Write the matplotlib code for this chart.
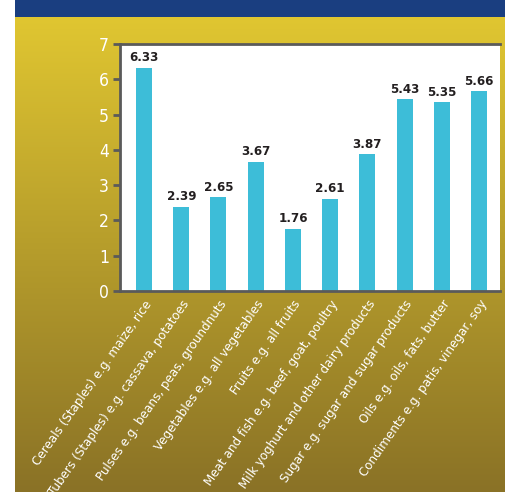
import matplotlib
matplotlib.use("Agg")
import matplotlib.pyplot as plt
import numpy as np
from matplotlib.colors import LinearSegmentedColormap
from matplotlib.patches import Rectangle

categories = [
    "Cereals (Staples) e.g. maize, rice",
    "Tubers (Staples) e.g. cassava, potatoes",
    "Pulses e.g. beans, peas, groundnuts",
    "Vegetables e.g. all vegetables",
    "Fruits e.g. all fruits",
    "Meat and fish e.g. beef, goat, poultry",
    "Milk yoghurt and other dairy products",
    "Sugar e.g. sugar and sugar products",
    "Oils e.g. oils, fats, butter",
    "Condiments e.g. patis, vinegar, soy",
]
values = [6.33, 2.39, 2.65, 3.67, 1.76, 2.61, 3.87, 5.43, 5.35, 5.66]
yticks = [0, 1, 2, 3, 4, 5, 6, 7]
title_text = "food item"

W, H = 506, 492
fig = plt.figure(figsize=(W / 100, H / 100), dpi=100)
fig.patch.set_facecolor("white")

narrow = ["DejaVu Sans Condensed", "DejaVu Sans"]
stretch = "condensed"

# background gradient panel
bg = fig.add_axes([15 / W, 0, 1 - 15 / W, 1 - 17 / H])
cmap = LinearSegmentedColormap.from_list("g", ["#E0C631", "#8A7226"])
grad = np.linspace(0, 1, 256).reshape(-1, 1)
bg.imshow(grad, aspect="auto", cmap=cmap, extent=[0, 1, 0, 1], origin="upper")
bg.set_axis_off()

# blue header band
fig.patches.append(Rectangle((15 / W, 1 - 17 / H), 1 - 15 / W, 17 / H,
                             transform=fig.transFigure, facecolor="#1A3E80",
                             edgecolor="none", zorder=1))
fig.text(120 / W, 1 - 2.5 / H, title_text, color="white", fontsize=13,
         fontweight="bold", ha="left", va="bottom", family=narrow,
         fontstretch=stretch)

ax = fig.add_axes([120 / W, 1 - 291 / H, (500 - 120) / W, (291 - 44) / H])
ax.set_facecolor("white")
x = np.arange(len(categories))
ax.bar(x, values, width=0.43, color="#3DBDD8", zorder=2)
for xi, v in zip(x, values):
    ax.text(xi, v + 0.1, f"{v:.2f}", ha="center", va="bottom", fontsize=9.5,
            fontweight="bold", color="#231F20", family=narrow,
            fontstretch=stretch)

ax.set_xlim(-0.645, len(categories) - 1 + 0.56)
ax.set_ylim(0, 7)
ax.set_yticks(yticks)
ax.set_yticklabels([str(t) for t in yticks], color="white", fontsize=12.5,
                   family=narrow, fontstretch=stretch)
ax.set_xticks(x)
ax.set_xticklabels(categories, rotation=55, ha="right", rotation_mode="anchor",
                   color="white", fontsize=9.5, family=narrow,
                   fontstretch=stretch)
ax.tick_params(axis="y", length=5, width=2, color="#5A5A5A", pad=3)
ax.tick_params(axis="x", length=0, pad=5)
for s in ["left", "bottom", "top"]:
    ax.spines[s].set_color("#5A5A5A")
    ax.spines[s].set_linewidth(2)
ax.spines["right"].set_visible(False)

fig.savefig("out.png", dpi=100)
